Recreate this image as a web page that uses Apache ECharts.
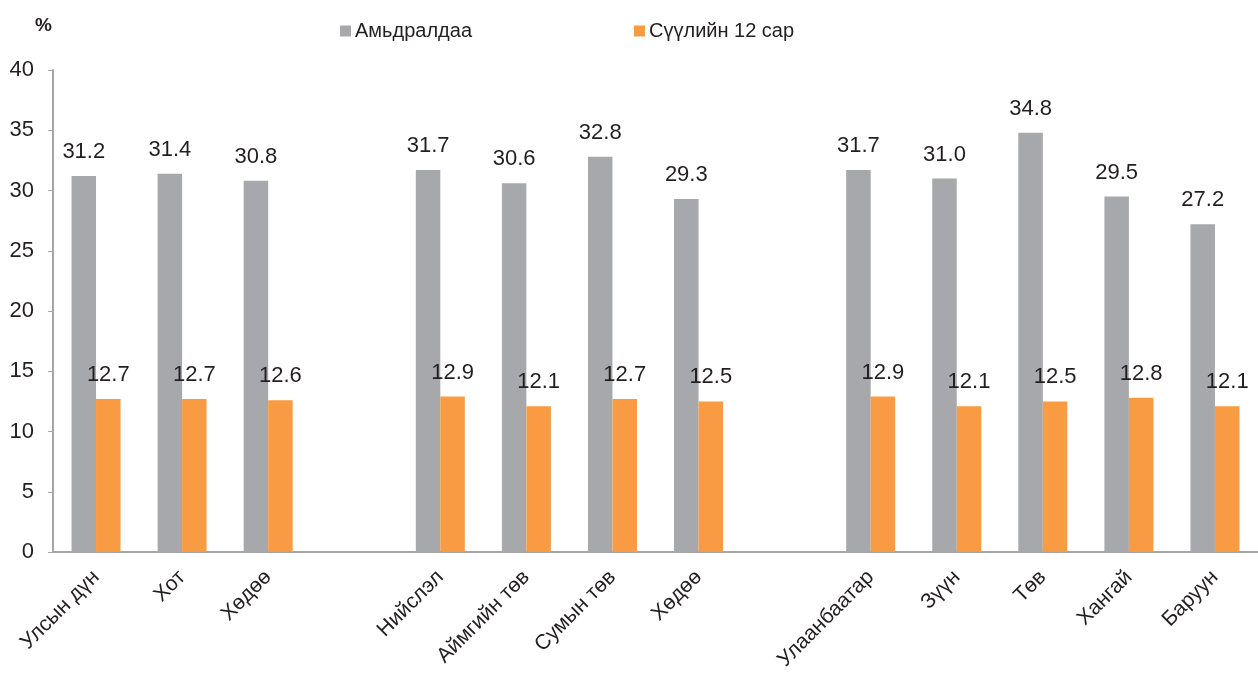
<!DOCTYPE html>
<html>
<head>
<meta charset="utf-8">
<script src="https://cdn.jsdelivr.net/npm/echarts@6/dist/echarts.min.js"></script>
<style>
html, body { margin: 0; padding: 0; background: #fff; }
#chart { width: 1258px; height: 687px; }
</style>
</head>
<body>
<div id="chart"></div>
<script>
// empty strings are the gaps between the three groups
var categories = ["Улсын дүн", "Хот", "Хөдөө", "", "Нийслэл", "Аймгийн төв", "Сумын төв", "Хөдөө", "",
    "Улаанбаатар", "Зүүн", "Төв", "Хангай", "Баруун"];
var lifetime = [31.2, 31.4, 30.8, "-", 31.7, 30.6, 32.8, 29.3, "-", 31.7, 31.0, 34.8, 29.5, 27.2];
var last12 = [12.7, 12.7, 12.6, "-", 12.9, 12.1, 12.7, 12.5, "-", 12.9, 12.1, 12.5, 12.8, 12.1];
var seriesNames = ["Амьдралдаа", "Сүүлийн 12 сар"];

var font = "Liberation Sans, Arial, sans-serif";
var textColor = "#231f20";

function labelFormatter(p) {
    return p.value.toFixed(1);
}

var barLabel = {
    show: true,
    position: "top",
    distance: 13,
    formatter: labelFormatter,
    color: textColor,
    fontSize: 22,
    fontFamily: font,
};

var chart = echarts.init(document.getElementById("chart"));
chart.setOption({
    animation: false,
    textStyle: { fontFamily: font },
    legend: {
        left: 335,
        top: 16,
        itemWidth: 11,
        itemHeight: 11,
        itemGap: 162,
        icon: "rect",
        textStyle: { color: textColor, fontSize: 20, fontFamily: font, padding: [0, 0, 0, -1] },
        data: seriesNames,
    },
    graphic: [{
        type: "text",
        left: 35,
        top: 16,
        style: { text: "%", fontSize: 19, fontWeight: "bold", fill: textColor, fontFamily: font },
    }],
    grid: {
        left: 53,
        top: 70,
        width: 1217,
        height: 482,
    },
    xAxis: {
        type: "category",
        data: categories,
        axisLine: { lineStyle: { color: "#a6a6a6", width: 2 } },
        axisTick: { show: false },
        axisLabel: {
            rotate: 45,
            interval: 0,
            margin: 22,
            color: textColor,
            fontSize: 21,
            fontFamily: font,
        },
    },
    yAxis: {
        type: "value",
        min: 0,
        max: 40,
        interval: 5,
        splitLine: { show: false },
        axisLine: { show: true, lineStyle: { color: "#a6a6a6", width: 2 } },
        axisTick: { show: true, length: 5, lineStyle: { color: "#a6a6a6" } },
        axisLabel: { color: textColor, fontSize: 22, fontFamily: font, margin: 19 },
    },
    series: [
        {
            name: seriesNames[0],
            type: "bar",
            data: lifetime,
            barWidth: 24.5,
            barGap: "0%",
            itemStyle: { color: "#a7a8ab" },
            label: barLabel,
        },
        {
            name: seriesNames[1],
            type: "bar",
            data: last12,
            barWidth: 24.5,
            itemStyle: { color: "#f89b43" },
            label: barLabel,
        },
    ],
});
</script>
</body>
</html>
